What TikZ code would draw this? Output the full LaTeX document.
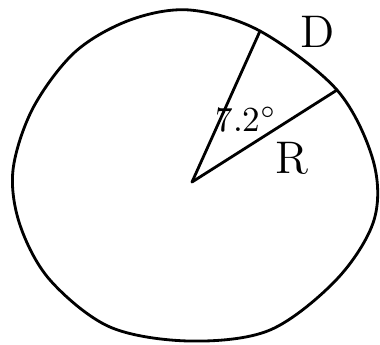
\documentclass[tikz,border=0pt]{standalone}
\usepackage{tikz}
\usetikzlibrary{positioning}

\begin{document}
\begin{tikzpicture}[
    x=0.01cm, y=-0.01cm,
    pen/.style={line width=0.8pt, line join=round, line cap=round},
    handtext/.style={inner sep=0pt, font=\fontsize{13}{15}\selectfont},
    angletext/.style={inner sep=0pt, font=\fontsize{10}{12}\selectfont}
]
\useasboundingbox (0,0) rectangle (380,344);

% Define the centre and the two points on the rim
\coordinate (centre) at (192,182);
\coordinate (rimD) at (260,31);
\coordinate (rimR) at (337,90);

% Draw the (hand drawn) circle
\draw[pen] plot[smooth cycle, tension=0.55] coordinates {
    (190,10) (260,31) (337,90) (373,160) (374,220) (337,279)
    (270,330) (190,341) (110,327) (50,280) (20,225) (13,170)
    (33,108) (75,52) (130,20)};

% Draw the two radii of the sector
\draw[pen] (centre) -- (rimD);
\draw[pen] (centre) -- (rimR);

% Add the labels
\node[handtext] (arc-label) at (318,32) {D};
\node[angletext] (angle-label) at (246,120) {7.2$^\circ$};
\node[handtext] (radius-label) at (292,158) {R};

\end{tikzpicture}
\end{document}
